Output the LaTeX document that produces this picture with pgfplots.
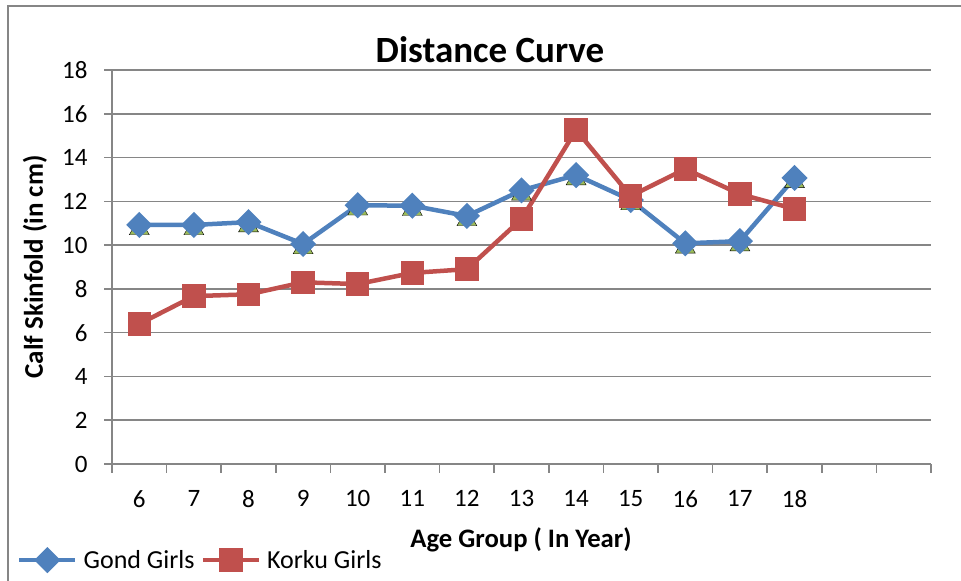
\documentclass[border=0pt]{standalone}
\usepackage{pgfplots}
\pgfplotsset{compat=1.18}
\usepackage{fontspec}
\setmainfont{Carlito}
\definecolor{gondblue}{HTML}{4F81BD}
\definecolor{korkured}{HTML}{C0504D}
\definecolor{trigreen}{HTML}{9BBB59}
\definecolor{gridgray}{HTML}{868686}
\begin{document}
\begin{tikzpicture}[x=1bp,y=1bp]
\path[use as bounding box] (0,0) rectangle (961,581);
\draw[gridgray,line width=1.5bp] (8,0) -- (8,575) -- (961,575);
\begin{axis}[
  at={(112bp,117bp)}, anchor=south west,
  width=819bp, height=394bp, scale only axis,
  xmin=-0.5, xmax=14.5, ymin=0, ymax=18,
  axis x line*=bottom, axis y line*=left,
  axis line style={gridgray,line width=1.5bp,-},
  xtick={0,...,12},
  xticklabels={6,7,8,9,10,11,12,13,14,15,16,17,18},
  minor xtick={-0.5,0.5,...,14.5},
  major x tick style={draw=none},
  minor tick length=9bp,
  major tick length=8bp,
  tick align=outside,
  tick style={gridgray,line width=1.5bp},
  ytick={0,2,...,18},
  ymajorgrids,
  grid style={gridgray,line width=1.5bp},
  tick label style={font=\fontsize{25bp}{29bp}\selectfont},
  /pgf/number format/assume math mode=true,
  xticklabel style={yshift=-15bp},
  yticklabel style={xshift=-13bp},
  legend style={at={(rel axis cs:-0.116,-0.244)}, anchor=west, draw=none, fill=none,
    font=\fontsize{26bp}{30bp}\selectfont, column sep=4bp, inner sep=0pt},
  legend columns=2,
  legend image code/.code={\draw[mark repeat=2,mark phase=2] plot coordinates {(0bp,0bp)(28bp,0bp)(56bp,0bp)};},
  clip=false,
]
\addplot[draw=none, mark=triangle*, mark size=11.5bp, mark options={fill=trigreen,draw=none,yshift=-4bp}, forget plot]
coordinates {(0,10.92)(1,10.92)(2,11.05)(3,10.05)(4,11.82)(5,11.8)(6,11.33)(7,12.5)(8,13.2)(9,12.06)(10,10.08)(11,10.18)(12,13.07)};
\addplot[gondblue, line width=4.5bp, mark=square*, mark size=7bp, mark options={rotate=45,fill=gondblue,draw=none}]
coordinates {(0,10.92)(1,10.92)(2,11.05)(3,10.05)(4,11.82)(5,11.8)(6,11.33)(7,12.5)(8,13.2)(9,12.06)(10,10.08)(11,10.18)(12,13.07)};
\addlegendentry{Gond Girls}
\addplot[korkured, line width=4.5bp, mark=square*, mark size=9.5bp, mark options={fill=korkured,draw=none}]
coordinates {(0,6.4)(1,7.67)(2,7.75)(3,8.3)(4,8.22)(5,8.73)(6,8.9)(7,11.19)(8,15.26)(9,12.24)(10,13.48)(11,12.33)(12,11.65)};
\addlegendentry{Korku Girls}
\end{axis}
\node[font=\bfseries\fontsize{37bp}{43bp}\selectfont] at (490,531) {Distance Curve};
\node[font=\bfseries\fontsize{26.7bp}{30bp}\selectfont] at (521,41) {Age Group ( In Year)};
\node[font=\bfseries\fontsize{27bp}{31bp}\selectfont, rotate=90] at (35,314) {Calf Skinfold (in cm)};
\end{tikzpicture}
\end{document}
